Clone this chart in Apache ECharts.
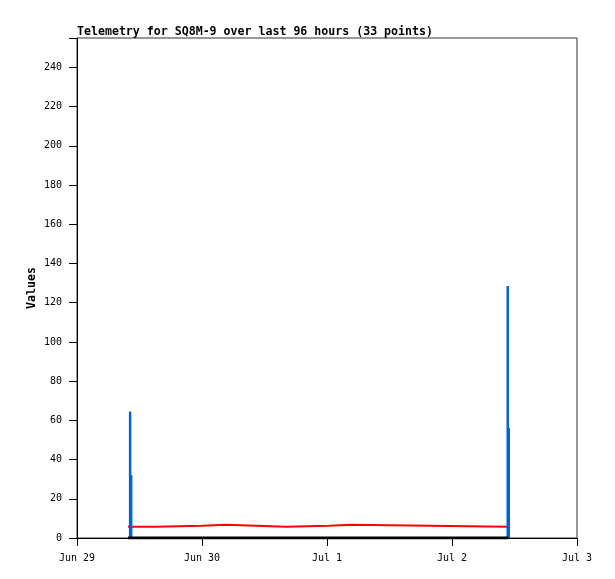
<!DOCTYPE html>
<html>
<head>
<meta charset="utf-8">
<script src="https://cdn.jsdelivr.net/npm/echarts@6/dist/echarts.min.js"></script>
<style>
  html, body { margin: 0; padding: 0; background: #fff; }
  #main { width: 615px; height: 579px; }
</style>
</head>
<body>
<div id="main"></div>
<script>
// hours since Jun 29 00:00
const dayLabels = ["Jun 29", "Jun 30", "Jul 1", "Jul 2", "Jul 3"];

// blue spikes
const spikeHours = [10.2, 10.4, 82.7, 82.9];
const spikeValues = [64.5, 32, 128.5, 56];

// red step line (value holds until next time)
const stepHours = [9.8, 15.0, 24.0, 28.6, 40.1, 48.4, 52.6, 82.6];
const stepValues = [5.8, 6.3, 6.8, 5.8, 6.3, 6.8, 5.8, 5.8];

// black zero line
const zeroHours = [9.8, 82.8];
const zeroValues = [0, 0];

const mono = "DejaVu Sans Mono";

const pairs = (xs, ys) => xs.map((x, i) => [x, ys[i]]);

// hold each value until the next sample
function steps(xs, ys) {
  const out = [];
  xs.forEach((x, i) => {
    if (i > 0) out.push([x, ys[i - 1]]);
    out.push([x, ys[i]]);
  });
  return out;
}

const myChart = echarts.init(document.getElementById("main"));
const option = {
  animation: false,
  backgroundColor: "#fff",
  title: {
    text: "Telemetry for SQ8M-9 over last 96 hours (33 points)",
    left: 72,
    top: 21,
    textStyle: { fontFamily: mono, fontSize: 11.6, fontWeight: "bold", color: "#000" }
  },
  grid: {
    left: 77,
    right: 38,
    top: 38,
    bottom: 41,
    show: true,
    borderColor: "#333",
    borderWidth: 1
  },
  xAxis: {
    type: "value",
    min: 0,
    max: 96,
    interval: 24,
    axisLine: { show: true, lineStyle: { color: "#000", width: 1 } },
    axisTick: { show: true, length: 8, lineStyle: { color: "#000" } },
    splitLine: { show: false },
    axisLabel: {
      fontFamily: mono,
      fontSize: 10,
      color: "#000",
      margin: 15,
      formatter: v => dayLabels[Math.round(v / 24)]
    }
  },
  yAxis: {
    type: "value",
    min: 0,
    max: 255,
    interval: 20,
    name: "Values",
    nameLocation: "middle",
    nameGap: 39,
    nameMoveOverlap: false,
    nameTextStyle: { fontFamily: mono, fontSize: 11.6, fontWeight: "bold", color: "#000" },
    axisLine: { show: true, lineStyle: { color: "#000", width: 1 } },
    axisTick: { show: true, length: 8, lineStyle: { color: "#000" } },
    splitLine: { show: false },
    axisLabel: {
      fontFamily: mono,
      fontSize: 10,
      color: "#000",
      margin: 15,
      formatter: v => (v > 240 ? "" : v)
    }
  },
  series: [
    {
      type: "line",
      symbol: "none",
      lineStyle: { color: "#ff0000", width: 2 },
      data: steps(stepHours, stepValues),
      z: 2
    },
    {
      type: "bar",
      barWidth: 2.5,
      itemStyle: { color: "#0066cc" },
      data: pairs(spikeHours, spikeValues),
      z: 3
    },
    {
      type: "line",
      symbol: "none",
      lineStyle: { color: "#000", width: 3 },
      data: pairs(zeroHours, zeroValues),
      z: 4
    }
  ]
};
myChart.setOption(option);
</script>
</body>
</html>
